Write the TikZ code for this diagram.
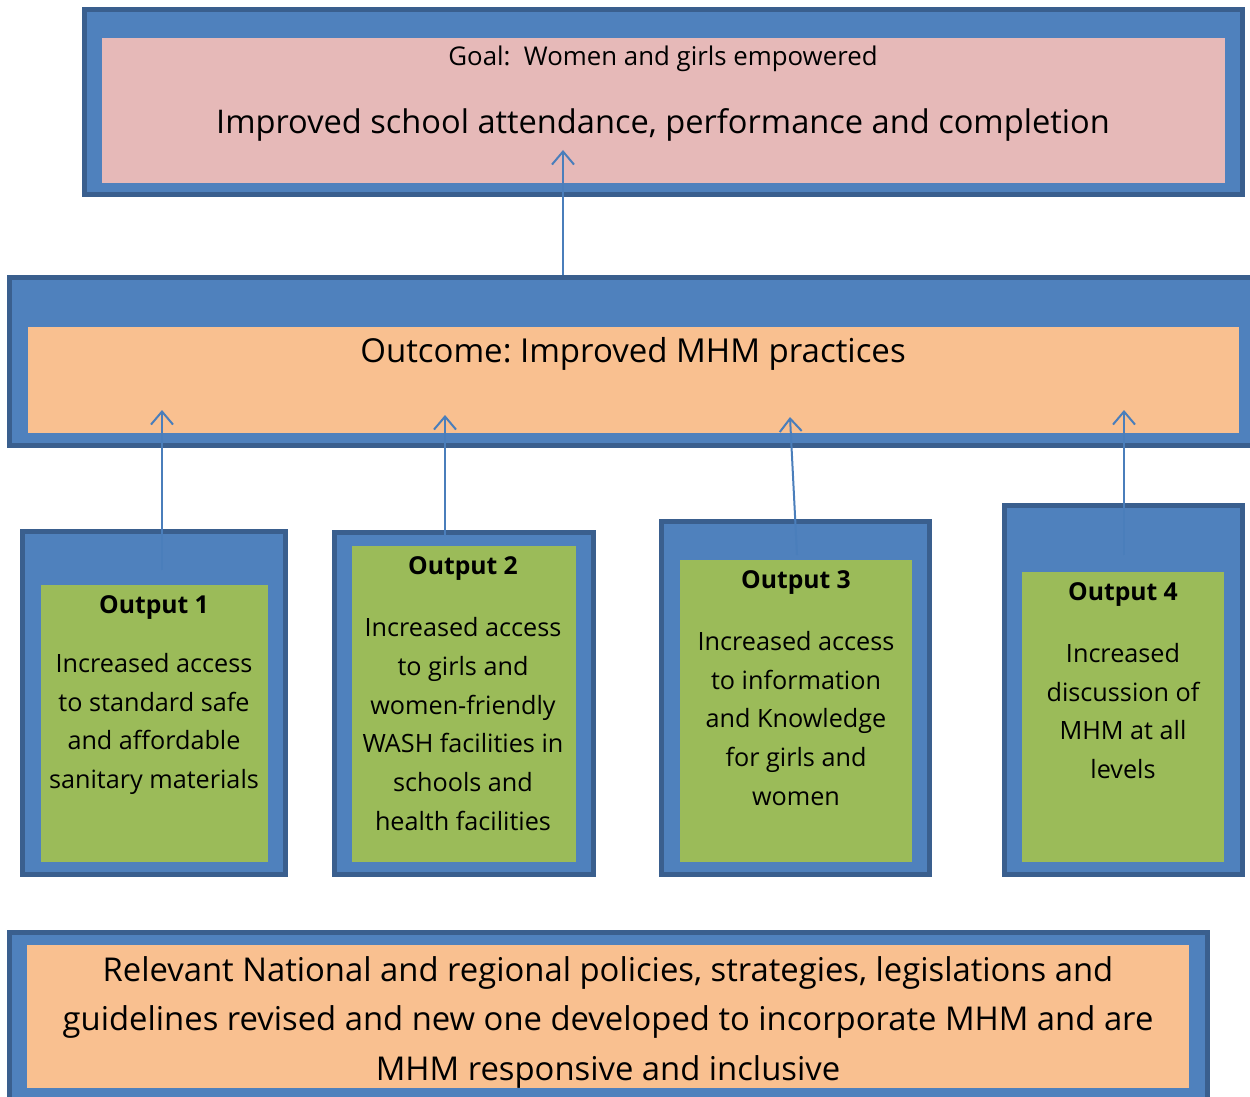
\documentclass[tikz,border=0pt]{standalone}
\usepackage{fontspec}
\setmainfont{Open Sans}
\frenchspacing
\usetikzlibrary{arrows.meta}
\definecolor{boxblue}{HTML}{4F81BD}
\definecolor{boxedge}{HTML}{3A5F8E}
\definecolor{goalpink}{HTML}{E6B9B8}
\definecolor{outcomeorange}{HTML}{F9C090}
\definecolor{outgreen}{HTML}{9BBB59}
\definecolor{arrowblue}{HTML}{4A7EBB}
\tikzset{
  outerbox/.style={draw=boxedge, fill=boxblue, line width=5pt, inner sep=0pt, outer sep=0pt, anchor=north west},
  innerbox/.style={fill=#1, draw=none, inner sep=0pt, outer sep=0pt, anchor=north west},
  upar/.style={draw=arrowblue, line width=2pt, -{Straight Barb[length=13pt,width=22pt,line width=2pt]}},
  outtitle/.style={font=\fontsize{24.7}{30}\selectfont\bfseries, inner sep=0pt},
  outbody/.style={font=\fontsize{25.2}{38.7}\selectfont, align=center, inner sep=0pt},
}
\begin{document}
\begin{tikzpicture}[x=1pt,y=-1pt]
\useasboundingbox (0,0) rectangle (1250,1097);
% goal
\node[outerbox, minimum width=1158pt, minimum height=185pt] (goalO) at (84.5,9.5) {};
\node[innerbox=goalpink, minimum width=1123pt, minimum height=145pt] (goalI) at (102,38) {};
\node[font=\fontsize{25.8}{30}\selectfont, inner sep=0pt] (goalT) at (663,59) {Goal:\ \ Women and girls empowered};
\node[font=\fontsize{32.6}{40}\selectfont, inner sep=0pt] (goalM) at (663,125) {Improved school attendance, performance and completion};
% outcome
\node[outerbox, minimum width=1250pt, minimum height=168pt] (outcO) at (9.5,277.5) {};
\node[innerbox=outcomeorange, minimum width=1211pt, minimum height=106pt] (outcI) at (28,327) {};
\node[font=\fontsize{33}{40}\selectfont, inner sep=0pt] (outcT) at (633,354) {Outcome: Improved MHM practices};
% outputs
\node[outerbox, minimum width=263pt, minimum height=343pt] (o1O) at (22.5,531.5) {};
\node[innerbox=outgreen, minimum width=227pt, minimum height=277pt] (o1I) at (41,585) {};
\node[outerbox, minimum width=259pt, minimum height=342pt] (o2O) at (334.5,532.5) {};
\node[innerbox=outgreen, minimum width=224pt, minimum height=316pt] (o2I) at (352,546) {};
\node[outerbox, minimum width=268pt, minimum height=353pt] (o3O) at (661.5,521.5) {};
\node[innerbox=outgreen, minimum width=232pt, minimum height=302pt] (o3I) at (680,560) {};
\node[outerbox, minimum width=238pt, minimum height=369pt] (o4O) at (1004.5,505.5) {};
\node[innerbox=outgreen, minimum width=202pt, minimum height=290pt] (o4I) at (1022,572) {};
% bottom
\node[outerbox, minimum width=1198pt, minimum height=180pt] (polO) at (9.5,932.5) {};
\node[innerbox=outcomeorange, minimum width=1162pt, minimum height=143pt] (polI) at (27,945) {};
\node[font=\fontsize{32.8}{49.5}\selectfont, align=center, inner sep=0pt] (polT) at (608,1022) {Relevant National and regional policies, strategies, legislations and\\guidelines revised and new one developed to incorporate MHM and are\\MHM responsive and inclusive};
% arrows
\coordinate (gA) at (563,275); \coordinate (gB) at (563,150);
\coordinate (a1s) at (162,570); \coordinate (a1e) at (162,410);
\coordinate (a2s) at (445,535); \coordinate (a2e) at (445,415);
\coordinate (a3s) at (797,555); \coordinate (a3e) at (790,417);
\coordinate (a4s) at (1124,555); \coordinate (a4e) at (1124,410);
\draw[upar] (gA) -- (gB);
\draw[upar] (a1s) -- (a1e);
\draw[upar] (a2s) -- (a2e);
\draw[upar] (a3s) -- (a3e);
\draw[upar] (a4s) -- (a4e);
% output texts
\node[outtitle] (o1T) at (154,607.5) {Output 1};
\node[outbody] (o1B) at (154,724) {Increased access\\to standard safe\\and affordable\\sanitary materials};
\node[outtitle] (o2T) at (463,568.5) {Output 2};
\node[outbody] (o2B) at (463,724) {Increased access\\to girls and\\women-friendly\\WASH facilities in\\schools and\\health facilities};
\node[outtitle] (o3T) at (796,582.5) {Output 3};
\node[outbody] (o3B) at (796,718.5) {Increased access\\to information\\and Knowledge\\for girls and\\women};
\node[outtitle] (o4T) at (1123,594.5) {Output 4};
\node[outbody] (o4B) at (1123,711) {Increased\\discussion of\\MHM at all\\levels};
\end{tikzpicture}
\end{document}
